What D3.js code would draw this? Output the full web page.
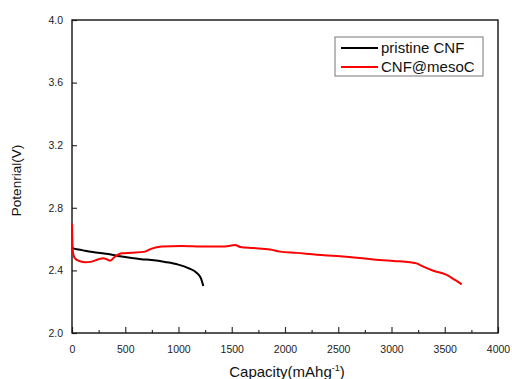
<!DOCTYPE html>
<html>
<head>
<meta charset="utf-8">
<script src="https://cdn.jsdelivr.net/npm/d3@7"></script>
<style>
  body { margin: 0; background: #fff; }
  svg { display: block; font-family: "Liberation Sans", Arial, sans-serif; }
</style>
</head>
<body>
<svg id="chart" width="512" height="379"></svg>
<script>
// discharge curves: [capacity mAh/g, potential V]
const pristineCNF = [
  [0, 2.545], [12, 2.541], [60, 2.533], [122, 2.526], [247, 2.513], [341, 2.505],
  [450, 2.49], [560, 2.479], [650, 2.472], [748, 2.466], [873, 2.454], [998, 2.437],
  [1092, 2.415], [1170, 2.385], [1211, 2.349], [1233, 2.30]
];
const cnfMesoC = [
  [0, 2.70], [3, 2.60], [8, 2.52], [25, 2.48], [59, 2.462], [122, 2.452], [185, 2.456],
  [247, 2.471], [294, 2.477], [326, 2.471], [357, 2.462], [404, 2.488], [467, 2.509],
  [560, 2.513], [685, 2.52], [748, 2.539], [842, 2.552], [1030, 2.556], [1249, 2.552],
  [1437, 2.552], [1531, 2.562], [1580, 2.55], [1700, 2.543], [1859, 2.533], [1953, 2.52],
  [2110, 2.512], [2298, 2.5], [2485, 2.492], [2673, 2.481], [2829, 2.47], [3017, 2.46],
  [3174, 2.452], [3236, 2.445], [3299, 2.424], [3393, 2.398], [3518, 2.371],
  [3596, 2.339], [3659, 2.311]
];
const seriesNames = ["pristine CNF", "CNF@mesoC"];
const seriesColors = ["#000000", "#ff0000"];
const xTicks = [0, 500, 1000, 1500, 2000, 2500, 3000, 3500, 4000];
const xMinorTicks = [250, 750, 1250, 1750, 2250, 2750, 3250, 3750];
const yTicks = [2.0, 2.4, 2.8, 3.2, 3.6, 4.0];

const margin = {top: 20, right: 14, bottom: 46, left: 72},
  width = 512 - margin.left - margin.right,
  height = 379 - margin.top - margin.bottom;

const svg = d3.select("#chart");
const g = svg.append("g").attr("transform", `translate(${margin.left},${margin.top})`);

const x = d3.scaleLinear().domain([0, 4000]).range([0, width]);
const y = d3.scaleLinear().domain([2.0, 4.0]).range([height, 0]);

// x axis, ticks pointing inward
g.append("g")
  .attr("transform", `translate(0,${height})`)
  .call(d3.axisBottom(x).tickValues(xTicks).tickSize(-6).tickPadding(13).tickFormat(d3.format("d")));
g.append("g")
  .attr("transform", `translate(0,${height})`)
  .call(d3.axisBottom(x).tickValues(xMinorTicks).tickSize(-3).tickFormat(""));

g.append("g")
  .call(d3.axisLeft(y).tickValues(yTicks).tickSize(-5).tickPadding(9).tickFormat(d3.format(".1f")));

g.selectAll(".tick line").attr("stroke", "#333").attr("stroke-width", 1.2);
g.selectAll(".domain").remove();
g.selectAll(".tick text")
  .attr("fill", "#222")
  .style("font-size", "10.5px");

// frame
g.append("rect")
  .attr("x", 0).attr("y", 0)
  .attr("width", width).attr("height", height)
  .attr("fill", "none")
  .attr("stroke", "#111")
  .attr("stroke-width", 1.4);

const line = d3.line()
  .x(d => x(d[0]))
  .y(d => y(d[1]))
  .curve(d3.curveMonotoneX);

[pristineCNF, cnfMesoC].forEach((data, i) => {
  g.append("path")
    .datum(data)
    .attr("d", line)
    .attr("fill", "none")
    .attr("stroke", seriesColors[i])
    .attr("stroke-width", 2);
});

// legend
const legend = svg.append("g").attr("transform", "translate(335,37)");
legend.append("rect")
  .attr("width", 148).attr("height", 39)
  .attr("fill", "#fff")
  .attr("stroke", "#777")
  .attr("stroke-width", 1);
seriesNames.forEach((name, i) => {
  const yy = 11 + i * 19;
  legend.append("line")
    .attr("x1", 6).attr("x2", 43)
    .attr("y1", yy).attr("y2", yy)
    .attr("stroke", seriesColors[i])
    .attr("stroke-width", 2);
  legend.append("text")
    .attr("x", 46).attr("y", yy + 5)
    .style("font-size", "15px")
    .attr("fill", "#111")
    .text(name);
});

// axis titles
svg.append("text")
  .attr("transform", `translate(21,${margin.top + height / 2 + 4}) rotate(-90)`)
  .attr("text-anchor", "middle")
  .style("font-size", "13.5px")
  .attr("fill", "#111")
  .text("Potenrial(V)");

const xt = svg.append("text")
  .attr("x", margin.left + width / 2 + 2)
  .attr("y", 377)
  .attr("text-anchor", "middle")
  .style("font-size", "15px")
  .attr("fill", "#111");
xt.append("tspan").text("Capacity(mAhg");
xt.append("tspan").attr("dy", -6).style("font-size", "9px").text("-1");
xt.append("tspan").attr("dy", 6).text(")");
</script>
</body>
</html>
